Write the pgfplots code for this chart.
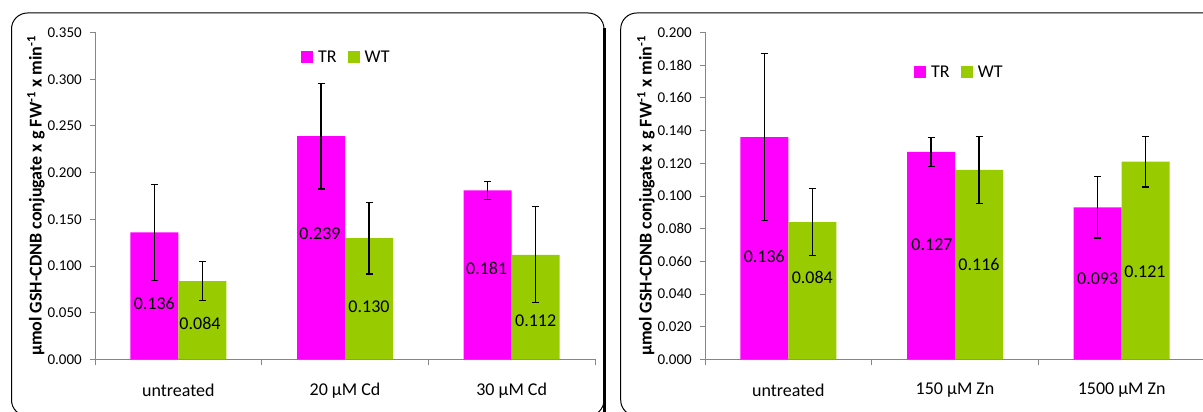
\documentclass[border=0pt]{standalone}
\usepackage{fontspec}
\setmainfont{Carlito}
\usepackage{pgfplots}
\pgfplotsset{compat=1.18}
\definecolor{trcol}{HTML}{FF00FF}
\definecolor{wtcol}{HTML}{99CC00}
\definecolor{axcol}{HTML}{868686}
\newcommand{\fs}[1]{\fontsize{#1}{#1}\selectfont}
\tikzset{lab/.style={font=\fs{18}, text=black}}
\pgfplotsset{
  panel/.style={
    scale only axis, width=500pt, height=327pt,
    anchor=south west,
    xmin=-0.5, xmax=2.5, ymin=0,
    axis x line*=bottom, axis y line*=left,
    axis line style={axcol, line width=0.9pt},
    tick align=outside,
    tick style={axcol, line width=0.9pt},
    major tick length=5pt, minor tick length=6pt,
    xtick={0,1,2},
    major x tick style={draw=none},
    minor xtick={-0.5,0.5,1.5,2.5},
    xticklabel style={font=\fs{18}, anchor=center, yshift=-26pt},
    yticklabel style={font=\fs{15}, anchor=east, inner sep=0pt, xshift=-8pt},
    /pgf/number format/.cd, fixed, fixed zerofill, precision=3, assume math mode=true,
    /pgfplots/.cd,
    ylabel={\bfseries µmol GSH-CDNB conjugate x g FW\textsuperscript{-1} x min\textsuperscript{-1}},
    ylabel style={font=\fs{18}, at={(axis description cs:-0.118,0.5)}, anchor=center},
    legend columns=2,
    legend image code/.code={\fill[#1] (0pt,-6pt) rectangle (12pt,6pt);},
    legend style={draw=none, fill=none, inner sep=0pt, anchor=west, font=\fs{18},
      nodes={inner sep=0pt}, column sep=5pt,
      /tikz/every even column/.append style={column sep=11pt}},
    error bars/y dir=both, error bars/y explicit,
    error bars/error bar style={black, line width=1.1pt},
    error bars/error mark options={black, line width=1.1pt, mark size=3.5pt, rotate=90},
  },
  trbar/.style={ybar, bar shift=0pt, bar width=0.288, fill=trcol, draw=none, mark=none},
  wtbar/.style={ybar, bar shift=0pt, bar width=0.288, fill=wtcol, draw=none, mark=none},
}
\begin{document}
\begin{tikzpicture}[x=1pt,y=1pt]
% left panel
\begin{axis}[panel, at={(95pt,52.5pt)}, ymax=0.35,
  ytick={0,0.05,...,0.351},
  xticklabels={untreated, 20 µM Cd, 30 µM Cd},
  legend style={at={(axis description cs:0.412,0.925)}}]
\addplot[trbar] coordinates {(-0.144,0.136) +- (0,0.051) (0.856,0.239) +- (0,0.0565) (1.856,0.181) +- (0,0.0093)};
\addlegendentry{TR}
\addplot[wtbar] coordinates {(0.144,0.084) +- (0,0.0205) (1.144,0.130) +- (0,0.0385) (2.144,0.112) +- (0,0.0513)};
\addlegendentry{WT}
\node[lab] at (axis cs:-0.144,0.0595) {0.136};
\node[lab] at (axis cs:0.130,0.039) {0.084};
\node[lab] at (axis cs:0.850,0.1345) {0.239};
\node[lab] at (axis cs:1.144,0.056) {0.130};
\node[lab] at (axis cs:1.850,0.098) {0.181};
\node[lab] at (axis cs:2.144,0.041) {0.112};
\end{axis}
% right panel
\begin{axis}[panel, at={(705pt,52.5pt)}, ymax=0.2,
  ytick={0,0.02,...,0.201},
  xticklabels={untreated, 150 µM Zn, 1500 µM Zn},
  legend style={at={(axis description cs:0.418,0.879)}}]
\addplot[trbar] coordinates {(-0.144,0.136) +- (0,0.051) (0.856,0.127) +- (0,0.009) (1.856,0.093) +- (0,0.0187)};
\addlegendentry{TR}
\addplot[wtbar] coordinates {(0.144,0.084) +- (0,0.0205) (1.144,0.116) +- (0,0.0205) (2.144,0.121) +- (0,0.0155)};
\addlegendentry{WT}
\node[lab] at (axis cs:-0.144,0.0631) {0.136};
\node[lab] at (axis cs:0.144,0.050) {0.084};
\node[lab] at (axis cs:0.862,0.0702) {0.127};
\node[lab] at (axis cs:1.144,0.0579) {0.116};
\node[lab] at (axis cs:1.856,0.0493) {0.093};
\node[lab] at (axis cs:2.140,0.0538) {0.121};
\end{axis}
% panel borders
\draw[black, line width=1pt, rounded corners=16pt] (11.5,-4) rectangle (604,399);
\draw[black, line width=2.6pt] (604.5,384) -- (604.5,-4);
\draw[black, line width=1pt, rounded corners=16pt] (620.7,-4) rectangle (1240,399);
\pgfresetboundingbox
\path[use as bounding box] (0,0) rectangle (1203,412);
\end{tikzpicture}
\end{document}
